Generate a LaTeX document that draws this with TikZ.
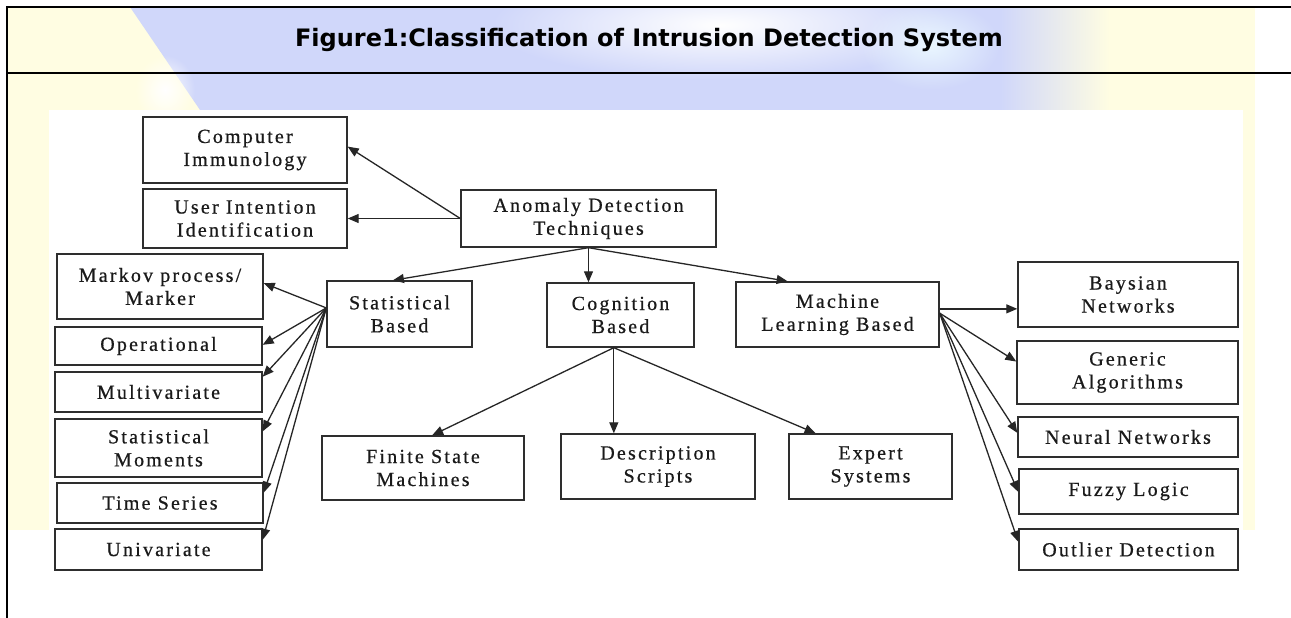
\documentclass[tikz,border=0pt]{standalone}
\usepackage{fontspec}
\usetikzlibrary{arrows.meta,calc,fadings}
\newfontfamily\boxfont{Liberation Serif}[LetterSpace=11,FakeBold=0.6]
\newfontfamily\headfont{DejaVu Sans}
\definecolor{wmyellow}{HTML}{FFFDE2}
\definecolor{wmblue}{HTML}{D0D7FA}
\definecolor{wmcyan}{HTML}{EAF7FF}
\definecolor{boxline}{HTML}{2E2E2E}
\definecolor{boxtext}{HTML}{1A1A1A}
\tikzfading[name=softspot, inner color=transparent!0, outer color=transparent!100]
\tikzset{
  box/.style={draw=boxline, line width=1.4pt, fill=white, inner sep=0pt,
    align=center, text=boxtext, font=\boxfont\fontsize{20}{23}\selectfont},
  sz/.style 2 args={minimum width=#1pt, minimum height=#2pt},
  link/.style={draw=black!85, line width=1.3pt, -{Triangle[length=11pt,width=9pt]}},
  frameline/.style={draw=black, line width=1.2pt}
}
\begin{document}
\begin{tikzpicture}[x=1pt,y=-1pt]
\useasboundingbox (0,0) rectangle (1291,618);
\fill[white] (0,0) rectangle (1291,618);
% faint page watermark behind the figure
\fill[wmyellow] (7,7) rectangle (1255,530);
\fill[wmblue] (130,7) -- (1000,7) -- (1000,110) -- (200,110) -- cycle;
\shade[left color=wmblue, right color=wmyellow] (1000,7) rectangle (1110,110);
\fill[white, path fading=softspot] (720,25) ellipse [x radius=230pt, y radius=55pt];
\fill[wmcyan, path fading=softspot] (930,45) ellipse [x radius=70pt, y radius=45pt];
\fill[white, path fading=softspot] (165,90) ellipse [x radius=30pt, y radius=35pt];
% white figure area
\fill[white] (49,110) rectangle (1243,618);
% table frame and caption
\draw[frameline] (1291,7) -- (7,7) -- (7,618);
\draw[frameline] (7,73) -- (1291,73);
\node[anchor=base, font=\headfont\bfseries\fontsize{24}{28}\selectfont] (title) at (649,47)
  {Figure1:Classification of Intrusion Detection System};

% boxes
\node[box, sz={204}{66}] (ci) at (245,150) {Computer\\Immunology};
\node[box, sz={204}{59}] (ui) at (245,218.5) {User Intention\\Identification};
\node[box, sz={255}{57}] (an) at (588.5,218.5) {Anomaly Detection\\Techniques};
\node[box, sz={145}{66}] (st) at (399.5,314) {Statistical\\Based};
\node[box, sz={147}{64}] (cg) at (620.5,315) {Cognition\\Based};
\node[box, sz={203}{65}] (ml) at (837.5,314.5) {Machine\\Learning Based};

\node[box, sz={206}{65}] (mk) at (160,286.5) {Markov process/\\Marker};
\node[box, sz={207}{38}] (op) at (158.5,346) {Operational};
\node[box, sz={207}{40}] (mv) at (158.5,392) {Multivariate};
\node[box, sz={207}{58}] (sm) at (158.5,448) {Statistical\\Moments};
\node[box, sz={206}{40}] (ts) at (160,503) {Time Series};
\node[box, sz={207}{41}] (uv) at (158.5,549.5) {Univariate};

\node[box, sz={202}{64}] (fs) at (423,468) {Finite State\\Machines};
\node[box, sz={194}{65}] (ds) at (658,466.5) {Description\\Scripts};
\node[box, sz={163}{65}] (es) at (870.5,466.5) {Expert\\Systems};

\node[box, sz={220}{65}] (by) at (1128,294.5) {Baysian\\Networks};
\node[box, sz={221}{63}] (ga) at (1127.5,372.5) {Generic\\Algorithms};
\node[box, sz={220}{40}] (nn) at (1128,437) {Neural Networks};
\node[box, sz={219}{45}] (fl) at (1128.5,491.5) {Fuzzy Logic};
\node[box, sz={219}{41}] (od) at (1128.5,549.5) {Outlier Detection};

% shared start points of the fans
\coordinate (stout) at ($(st.north west)!0.41!(st.south west)$);
\coordinate (cgout) at ($(cg.south west)!0.455!(cg.south east)$);
\coordinate (mlout1) at ($(ml.north east)!0.415!(ml.south east)$);
\coordinate (mlout2) at ($(ml.north east)!0.48!(ml.south east)$);

% anomaly detection techniques
\draw[link] (an.west) -- ($(ci.north east)!0.45!(ci.south east)$);
\draw[link] (an.west) -- (ui.east);
\draw[link] (an.south) -- ($(st.north west)!0.455!(st.north east)$);
\draw[link] (an.south) -- (an.south |- cg.north);
\draw[link] (an.south) -- ($(ml.north west)!0.256!(ml.north east)$);

% statistical based
\draw[link] (stout) -- ($(mk.north east)!0.45!(mk.south east)$);
\draw[link] (stout) -- ($(op.north east)!0.47!(op.south east)$);
\draw[link] (stout) -- ($(mv.north east)!0.13!(mv.south east)$);
\draw[link] (stout) -- ($(sm.north east)!0.22!(sm.south east)$);
\draw[link] (stout) -- ($(ts.north east)!0.25!(ts.south east)$);
\draw[link] (stout) -- ($(uv.north east)!0.27!(uv.south east)$);

% cognition based
\draw[link] (cgout) -- ($(fs.north west)!0.545!(fs.north east)$);
\draw[link] (cgout) -- (cgout |- ds.north);
\draw[link] (cgout) -- ($(es.north west)!0.166!(es.north east)$);

% machine learning based
\draw[link] (mlout1) -- (mlout1 -| by.west);
\draw[link] (mlout2) -- ($(ga.north west)!0.33!(ga.south west)$);
\draw[link] (mlout2) -- ($(nn.north west)!0.4!(nn.south west)$);
\draw[link] (mlout2) -- ($(fl.north west)!0.51!(fl.south west)$);
\draw[link] (mlout2) -- ($(od.north west)!0.32!(od.south west)$);
\end{tikzpicture}
\end{document}
